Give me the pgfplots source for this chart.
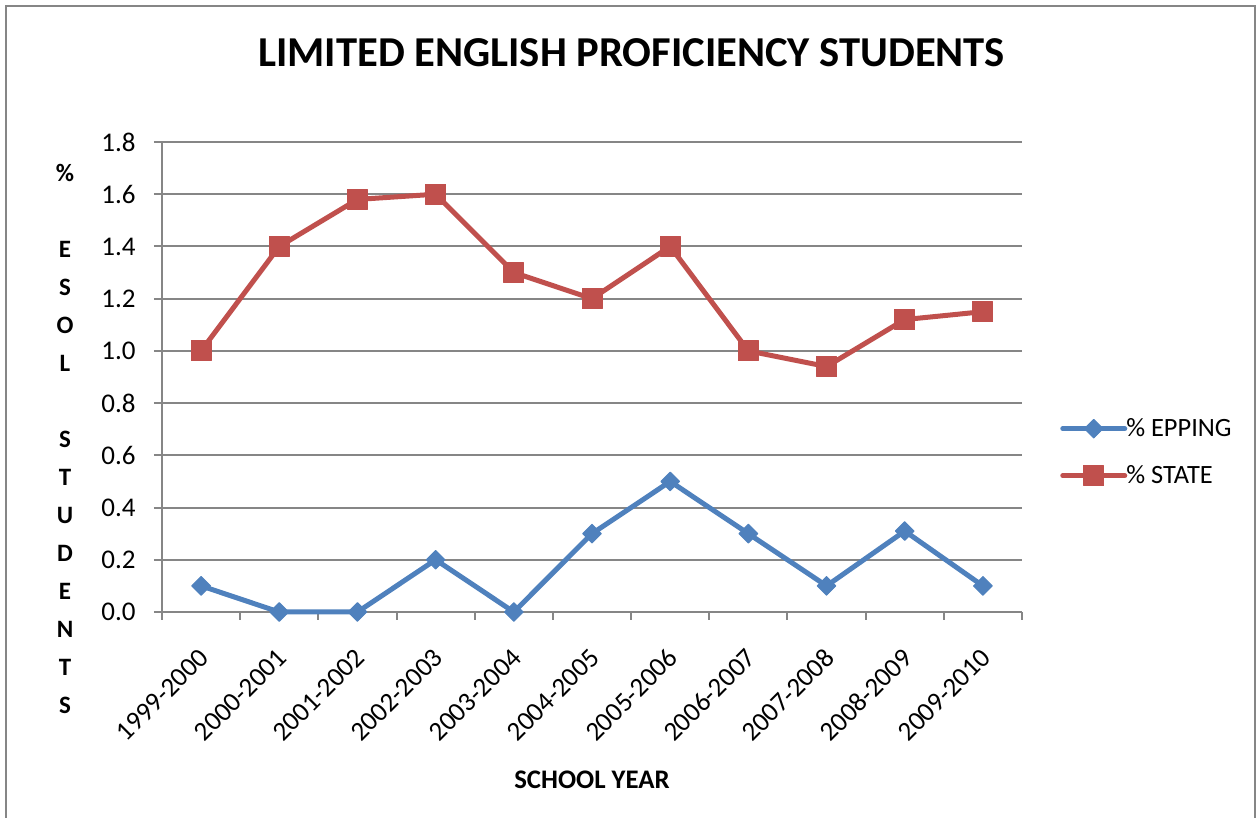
\documentclass[border=0pt]{standalone}
\usepackage{fontspec}
\setmainfont{Carlito}
\usepackage{pgfplots}
\pgfplotsset{compat=1.18}
\definecolor{cblue}{RGB}{79,129,189}
\definecolor{cred}{RGB}{192,80,77}
\definecolor{cgrid}{RGB}{134,134,134}
\begin{document}
\begin{tikzpicture}[x=1pt,y=1pt]
\useasboundingbox (0,0) rectangle (629,409);
\draw[cgrid, line width=1.2pt] (3,-2) -- (3,406) -- (627.5,406) -- (627.5,-2);
\node[font=\fontsize{21.3}{25}\selectfont\bfseries] at (315.75,382.75) {LIMITED ENGLISH PROFICIENCY STUDENTS};
\node[font=\bfseries\fontsize{12.5}{19}\selectfont, align=center] at (32.5,189.5) {\%\\~\\E\\S\\O\\L\\~\\S\\T\\U\\D\\E\\N\\T\\S};
\node[font=\bfseries\fontsize{13.4}{15}\selectfont] at (296,19) {SCHOOL YEAR};
\begin{axis}[
  at={(81pt,103pt)}, anchor=south west, scale only axis,
  width=430pt, height=235pt,
  xmin=-0.5, xmax=10.5, ymin=0, ymax=1.8,
  axis x line*=bottom, axis y line*=left,
  axis line style={cgrid, line width=1pt, -},
  ytick={0,0.2,0.4,0.6,0.8,1.0,1.2,1.4,1.6,1.8},
  ymajorgrids, grid style={cgrid, line width=1pt},
  xtick={-0.5,0.5,1.5,2.5,3.5,4.5,5.5,6.5,7.5,8.5,9.5,10.5},
  xticklabels={},
  extra x ticks={0,1,2,3,4,5,6,7,8,9,10},
  extra x tick labels={1999-2000,2000-2001,2001-2002,2002-2003,2003-2004,2004-2005,2005-2006,2006-2007,2007-2008,2008-2009,2009-2010},
  extra x tick style={tick style={draw=none},
    xticklabel style={font=\fontsize{13.5}{16}\selectfont, inner sep=0pt, anchor=east, xshift=1.5pt, yshift=-16.5pt, rotate=45}},
  tick align=outside, major tick length=4pt,
  tick style={cgrid, line width=1pt},
  yticklabel style={font=\fontsize{13.5}{16}\selectfont, inner sep=0pt, anchor=east, xshift=-9pt,
    /pgf/number format/.cd, fixed, fixed zerofill, precision=1, assume math mode=true},
  clip=false,
  legend style={at={(1.044,0.34)}, anchor=west, draw=none, fill=none,
    font=\fontsize{13.2}{16}\selectfont, row sep=9pt, column sep=-1pt, inner sep=0pt,
    nodes={inner xsep=0.5pt}, cells={anchor=west}},
  legend image code/.code={\draw[mark repeat=2,mark phase=2,#1] plot coordinates {(0pt,0pt) (15.5pt,0pt) (31pt,0pt)};},
]
\addplot[cblue, line width=2.5pt, line join=round, line cap=round, mark=square*,
  mark size=3.3pt, mark options={rotate=45, line width=0.5pt, solid}]
  coordinates {(0,0.1) (1,0) (2,0) (3,0.2) (4,0) (5,0.3) (6,0.5) (7,0.3) (8,0.1) (9,0.31) (10,0.1)};
\addlegendentry{\% EPPING}
\addplot[cred, line width=2.5pt, line join=round, line cap=round, mark=square*,
  mark size=5pt, mark options={line width=0.5pt, solid}]
  coordinates {(0,1.0) (1,1.4) (2,1.58) (3,1.6) (4,1.3) (5,1.2) (6,1.4) (7,1.0) (8,0.94) (9,1.12) (10,1.15)};
\addlegendentry{\% STATE}
\end{axis}
\end{tikzpicture}
\end{document}
